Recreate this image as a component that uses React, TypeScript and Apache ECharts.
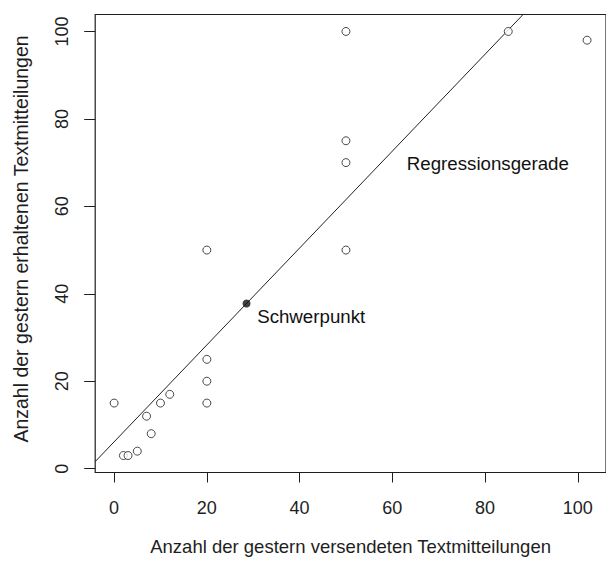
import React, { useEffect, useRef } from "react";
import * as echarts from "echarts";

// Data
const sentMessages = [0, 2, 3, 5, 7, 8, 10, 12, 20, 20, 20, 20, 50, 50, 50, 50, 85, 102];
const receivedMessages = [15, 3, 3, 4, 12, 8, 15, 17, 50, 25, 20, 15, 100, 75, 70, 50, 100, 98];
const xTickValues = [0, 20, 40, 60, 80, 100];
const yTickValues = [0, 20, 40, 60, 80, 100];
const xRange = [-4.08, 106.08];
const yRange = [-0.88, 103.88];
const annotationTexts = ["Regressionsgerade", "Schwerpunkt"];
const annotationX = [80.6, 42.5];
const annotationY = [70, 35];

const xTitle = "Anzahl der gestern versendeten Textmitteilungen";
const yTitle = "Anzahl der gestern erhaltenen Textmitteilungen";

const FONT = "'Liberation Sans', Arial, Helvetica, sans-serif";
const INK = "#1e1e1e";

export default function App() {
  const ref = useRef<HTMLDivElement>(null);

  useEffect(() => {
    if (!ref.current) return;
    const chart = echarts.init(ref.current, undefined, { renderer: "svg" });

    const n = sentMessages.length;
    const mx = sentMessages.reduce((a, b) => a + b, 0) / n;
    const my = receivedMessages.reduce((a, b) => a + b, 0) / n;
    let sxy = 0;
    let sxx = 0;
    for (let i = 0; i < n; i++) {
      sxy += (sentMessages[i] - mx) * (receivedMessages[i] - my);
      sxx += (sentMessages[i] - mx) * (sentMessages[i] - mx);
    }
    const slope = sxy / sxx;
    const intercept = my - slope * mx;

    const points = sentMessages.map((x, i) => [x, receivedMessages[i]]);
    const lineData = [
      [xRange[0], intercept + slope * xRange[0]],
      [xRange[1], intercept + slope * xRange[1]],
    ];
    const annotations = annotationTexts.map((t, i) => ({
      value: [annotationX[i], annotationY[i]],
      name: t,
    }));

    chart.setOption({
      animation: false,
      backgroundColor: "#ffffff",
      textStyle: { fontFamily: FONT },
      grid: {
        left: 95.2,
        top: 14.5,
        width: 516,
        height: 458,
        show: true,
        borderColor: INK,
        borderWidth: 1.2,
        backgroundColor: "transparent",
      },
      xAxis: {
        type: "value",
        min: xRange[0],
        max: xRange[1],
        name: xTitle,
        nameLocation: "middle",
        nameGap: 64,
        nameMoveOverlap: false,
        nameTextStyle: { fontSize: 18.5, color: INK, fontFamily: FONT },
        axisLine: { show: false, onZero: false },
        splitLine: { show: false },
        axisTick: {
          show: true,
          inside: false,
          length: 10,
          customValues: xTickValues,
          lineStyle: { color: INK, width: 1 },
        },
        axisLabel: {
          show: true,
          customValues: xTickValues,
          margin: 26,
          fontSize: 18,
          color: INK,
          fontFamily: FONT,
        },
      },
      yAxis: {
        type: "value",
        min: yRange[0],
        max: yRange[1],
        name: yTitle,
        nameLocation: "middle",
        nameGap: 64,
        nameMoveOverlap: false,
        nameTextStyle: {
          fontSize: 19.5,
          color: INK,
          fontFamily: FONT,
          padding: [0, 0, 0, 9],
        },
        axisLine: { show: false, onZero: false },
        splitLine: { show: false },
        axisTick: {
          show: true,
          inside: false,
          length: 11,
          customValues: yTickValues,
          lineStyle: { color: INK, width: 1 },
        },
        axisLabel: {
          show: true,
          customValues: yTickValues,
          rotate: 90,
          margin: 24,
          fontSize: 18,
          color: INK,
          fontFamily: FONT,
        },
      },
      series: [
        {
          type: "line",
          data: lineData,
          clip: true,
          showSymbol: false,
          symbol: "none",
          lineStyle: { color: "#222", width: 1 },
          silent: true,
          z: 1,
        },
        {
          type: "scatter",
          data: points,
          symbol: "circle",
          symbolSize: 8,
          itemStyle: { color: "#ffffff", borderColor: INK, borderWidth: 1 },
          z: 3,
        },
        {
          type: "scatter",
          data: [[mx, my]],
          symbol: "circle",
          symbolSize: 8,
          itemStyle: { color: "#111" },
          z: 4,
        },
        {
          type: "scatter",
          data: annotations,
          symbolSize: 1,
          itemStyle: { color: "#ffffff", opacity: 1 },
          label: {
            show: true,
            position: "inside",
            formatter: (p: any) => p.name,
            fontSize: 18.7,
            color: "#111",
            opacity: 1,
            fontFamily: FONT,
            textBorderWidth: 0,
            offset: [0, 1],
          },
          z: 5,
        },
      ],
    });

    return () => chart.dispose();
  }, []);

  return (
    <div
      ref={ref}
      style={{ position: "fixed", left: 0, top: 0, width: 606, height: 563, background: "#fff" }}
    />
  );
}
